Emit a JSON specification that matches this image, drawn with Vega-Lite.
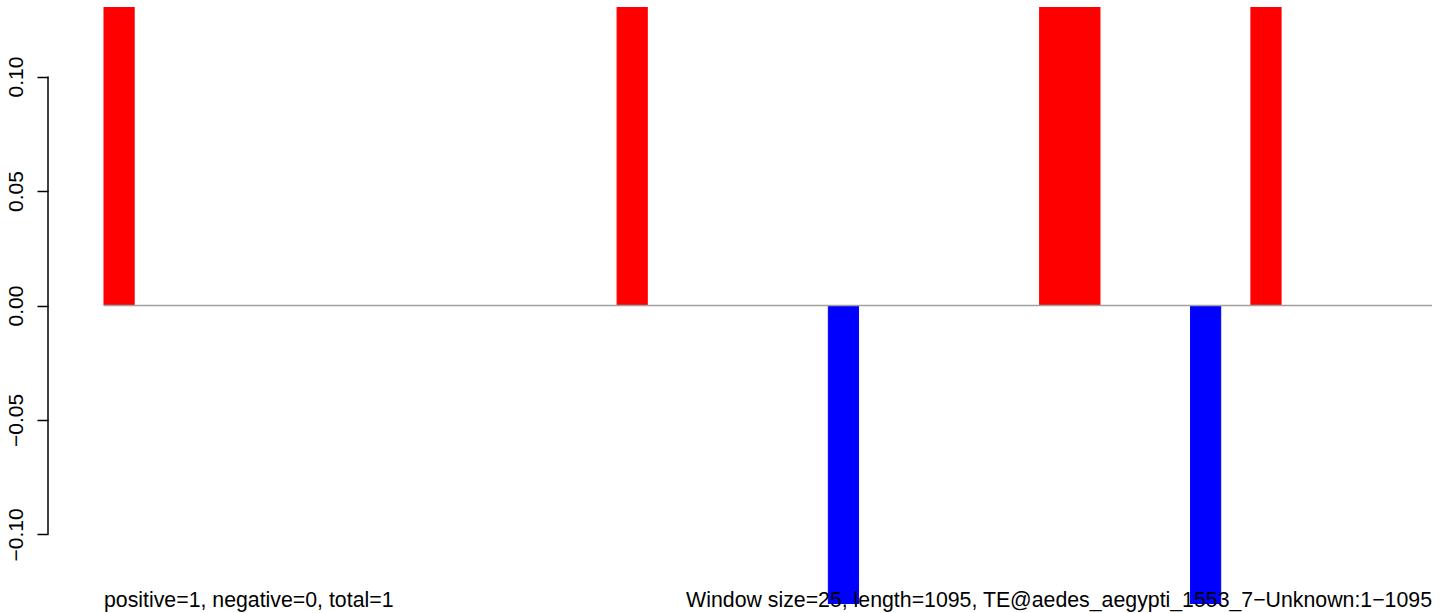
{
  "$schema": "https://vega.github.io/schema/vega-lite/v6.json",
  "width": 1396,
  "height": 597,
  "padding": {"left": 48, "top": 7, "right": 0, "bottom": 9},
  "autosize": {"type": "none"},
  "background": "white",
  "config": {"view": {"stroke": null}, "font": "Liberation Sans"},
  "datasets": {
    "bars": [
      {"window": 0, "start": 0, "end": 1, "value": 1, "sign": "positive"},
      {"window": 17, "start": 17, "end": 18, "value": 1, "sign": "positive"},
      {"window": 24, "start": 24, "end": 25, "value": -1, "sign": "negative"},
      {"window": 31, "start": 31, "end": 32, "value": 1, "sign": "positive"},
      {"window": 32, "start": 32, "end": 33, "value": 1, "sign": "positive"},
      {"window": 36, "start": 36, "end": 37, "value": -1, "sign": "negative"},
      {"window": 38, "start": 38, "end": 39, "value": 1, "sign": "positive"}
    ],
    "labels": [
      {"label": "positive=1, negative=0, total=1", "pos": 0, "side": "left"},
      {"label": "Window size=25, length=1095, TE@aedes_aegypti_1553_7−Unknown:1−1095", "pos": 44, "side": "right"}
    ],
    "baseline": [
      {"from": 0, "to": 44, "level": 0}
    ],
    "axisline": [
      {"x": -1.8554, "low": -0.1, "high": 0.1}
    ]
  },
  "layer": [
    {
      "data": {"name": "bars"},
      "mark": {"type": "rect", "clip": true, "strokeWidth": 1},
      "encoding": {
        "x": {"field": "start", "type": "quantitative", "scale": {"domain": [-1.8554, 44.398], "nice": false, "zero": false}, "axis": null},
        "x2": {"field": "end"},
        "y": {"field": "value", "type": "quantitative", "scale": {"domain": [-0.13035, 0.13035], "nice": false}, "axis": {
          "values": [-0.1, -0.05, 0, 0.05, 0.1],
          "format": ".2f",
          "domain": false,
          "grid": false,
          "title": null,
          "tickSize": 11,
          "tickColor": "black",
          "tickWidth": 1.5,
          "labelAngle": -90,
          "labelAlign": "center",
          "labelBaseline": "alphabetic",
          "labelPadding": 15,
          "labelFontSize": 21,
          "labelColor": "black",
          "labelFont": "Liberation Sans",
          "labelExpr": "replace(datum.label, '-', '−')"
        }},
        "y2": {"datum": 0},
        "color": {"field": "sign", "type": "nominal", "scale": {"domain": ["positive", "negative"], "range": ["#ff0000", "#0000ff"]}, "legend": null},
        "stroke": {"field": "sign", "type": "nominal", "scale": {"domain": ["positive", "negative"], "range": ["#ff0000", "#0000ff"]}, "legend": null}
      }
    },
    {
      "data": {"name": "baseline"},
      "mark": {"type": "rule", "color": "#a0a0a0", "strokeWidth": 1.5},
      "encoding": {
        "x": {"field": "from", "type": "quantitative"},
        "x2": {"field": "to"},
        "y": {"field": "level", "type": "quantitative"}
      }
    },
    {
      "data": {"name": "axisline"},
      "mark": {"type": "rule", "color": "black", "strokeWidth": 1.5, "clip": false},
      "encoding": {
        "x": {"field": "x", "type": "quantitative"},
        "y": {"field": "low", "type": "quantitative"},
        "y2": {"field": "high"}
      }
    },
    {
      "data": {"name": "labels"},
      "transform": [{"filter": "datum.side == 'left'"}],
      "mark": {"type": "text", "align": "left", "baseline": "alphabetic", "fontSize": 21.3, "color": "black", "clip": false, "font": "Liberation Sans", "dy": 3},
      "encoding": {
        "x": {"field": "pos", "type": "quantitative"},
        "y": {"datum": -0.13035, "type": "quantitative"},
        "text": {"field": "label"}
      }
    },
    {
      "data": {"name": "labels"},
      "transform": [{"filter": "datum.side == 'right'"}],
      "mark": {"type": "text", "align": "right", "baseline": "alphabetic", "fontSize": 21.3, "color": "black", "clip": false, "font": "Liberation Sans", "dy": 3},
      "encoding": {
        "x": {"field": "pos", "type": "quantitative"},
        "y": {"datum": -0.13035, "type": "quantitative"},
        "text": {"field": "label"}
      }
    }
  ]
}
